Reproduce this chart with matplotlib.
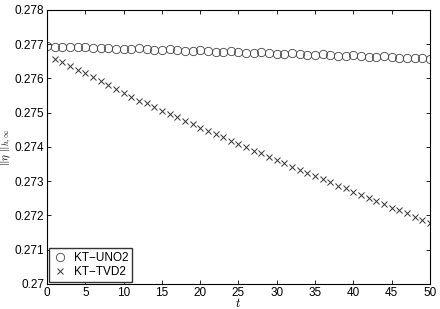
import numpy as np
import matplotlib.pyplot as plt

plt.rcParams['font.family'] = ['Liberation Sans', 'DejaVu Sans']
plt.rcParams['mathtext.fontset'] = 'cm'

t_uno = np.arange(0, 51)
uno = [0.27694, 0.27692, 0.27691, 0.27692, 0.27693, 0.27691, 0.27689, 0.27690,
       0.27690, 0.27687, 0.27686, 0.27687, 0.27688, 0.27686, 0.27683, 0.27684,
       0.27685, 0.27683, 0.27680, 0.27681, 0.27682, 0.27680, 0.27677, 0.27678,
       0.27679, 0.27677, 0.27674, 0.27675, 0.27676, 0.27674, 0.27671, 0.27672,
       0.27673, 0.27671, 0.27668, 0.27669, 0.27670, 0.27668, 0.27665, 0.27666,
       0.27667, 0.27665, 0.27662, 0.27663, 0.27664, 0.27662, 0.27659, 0.27660,
       0.27661, 0.27659, 0.27657]

t_tvd = np.arange(1, 51)
tvd = [0.276561, 0.276473, 0.276374, 0.276248, 0.276169, 0.276053, 0.275918,
       0.275801, 0.275693, 0.275585, 0.275469, 0.275352, 0.275276, 0.275177,
       0.275060, 0.274955, 0.274885, 0.274768, 0.274672, 0.274546, 0.274467,
       0.274388, 0.274283, 0.274175, 0.274096, 0.274009, 0.273883, 0.273816,
       0.273717, 0.273620, 0.273524, 0.273425, 0.273328, 0.273232, 0.273153,
       0.273066, 0.272978, 0.272861, 0.272794, 0.272695, 0.272599, 0.272502,
       0.272423, 0.272336, 0.272228, 0.272152, 0.272064, 0.271947, 0.271869,
       0.271772]

fig = plt.figure(figsize=(4.4, 3.09), dpi=100)
ax = fig.add_axes([0.107, 0.081, 0.870, 0.887])

ax.plot(t_uno, uno, linestyle='none', marker='o', markersize=6,
        markerfacecolor='none', markeredgecolor='#444444', markeredgewidth=0.6,
        label='KT\u2212UNO2')
ax.plot(t_tvd, tvd, linestyle='none', marker='x', markersize=4.3,
        color='#333333', markeredgewidth=0.7, label='KT\u2212TVD2')

ax.set_xlim(0, 50)
ax.set_ylim(0.27, 0.278)
ax.set_xticks(np.arange(0, 51, 5))
ax.set_yticks(np.arange(0.270, 0.2781, 0.001))
ax.set_yticklabels(['0.27', '0.271', '0.272', '0.273', '0.274', '0.275',
                    '0.276', '0.277', '0.278'])
ax.tick_params(direction='in', top=True, right=True, labelsize=8.5,
               length=3, width=0.6, pad=2)
for s in ax.spines.values():
    s.set_linewidth(0.8)

ax.set_xlabel('$t$', fontsize=9, labelpad=-1)
ax.set_ylabel(r'$\|\eta\ \|_{h,\infty}$', fontsize=8)
ax.yaxis.set_label_coords(-0.086, 0.5)

leg = ax.legend(loc='lower left', fontsize=8.5, fancybox=False, framealpha=1,
                borderaxespad=0.2, handlelength=1.2, handletextpad=0.6,
                borderpad=0.3, labelspacing=0.2)
leg.get_frame().set_edgecolor('#333333')
leg.get_frame().set_linewidth(1.0)

fig.savefig('out.png', dpi=100)
